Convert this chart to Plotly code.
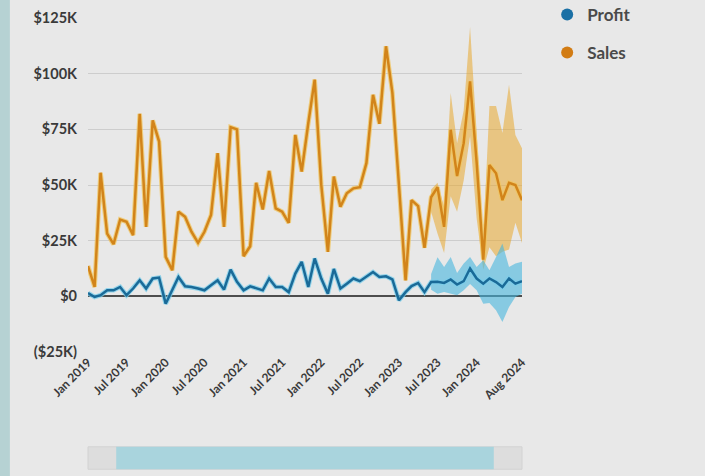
import pandas as pd
import plotly.graph_objects as go

# Monthly series, Jan 2019 .. Aug 2024
months = pd.date_range("2019-01-01", "2024-08-01", freq="MS")

# Actuals Jan 2019 .. May 2023, forecast Jun 2023 .. Aug 2024 (thousands of $)
sales_k = [
    13.6, 4.2, 55.5, 28.2, 23.4, 34.5, 33.5, 27.5, 82.0, 31.2, 79.0, 69.5,
    17.7, 11.7, 38.0, 35.7, 29.0, 24.0, 29.0, 36.5, 64.3, 31.2, 76.0, 75.0,
    18.0, 22.5, 51.0, 39.0, 56.3, 39.5, 38.0, 33.0, 72.5, 56.0, 77.8, 97.3,
    50.0, 20.0, 53.8, 40.2, 46.3, 48.5, 49.0, 59.8, 90.5, 77.5, 112.3, 91.5,
    50.0, 7.2, 43.2, 40.5, 21.8,
    44.5, 49.0, 31.2, 74.8, 54.0, 68.8, 96.5, 60.0, 16.5, 59.0, 55.3, 43.2,
    51.0, 50.0, 43.2,
]
profit_k = [
    1.5, -0.3, 0.5, 2.7, 2.7, 4.2, 0.5, 3.5, 7.2, 3.5, 8.0, 8.4,
    -3.3, 2.7, 8.7, 4.5, 4.2, 3.5, 2.7, 5.0, 7.2, 3.0, 12.0, 6.5,
    2.7, 4.5, 3.5, 2.7, 8.0, 4.2, 4.2, 1.9, 10.2, 15.5, 4.2, 17.0,
    8.0, 1.2, 12.3, 3.5, 5.7, 8.0, 6.8, 8.7, 10.9, 8.7, 9.0, 7.6,
    -1.8, 1.9, 4.6, 6.0, 1.9,
    6.4, 6.5, 6.0, 7.6, 5.3, 6.8, 12.5, 8.0, 5.7, 8.0, 6.4, 4.2,
    8.0, 5.7, 6.8,
]

# Forecast prediction intervals, Jun 2023 .. Aug 2024 (thousands of $)
forecast_start = 53
sales_upper_k = [48.0, 51.0, 40.2, 91.3, 68.8, 83.5, 121.0, 76.0, 26.0, 85.5,
                 85.5, 73.3, 95.0, 72.5, 66.5]
sales_lower_k = [38.0, 28.2, 19.5, 45.0, 38.0, 52.0, 72.0, 35.0, 12.0, 22.0,
                 18.0, 20.0, 21.0, 33.0, 24.0]
profit_upper_k = [10.0, 17.5, 13.2, 17.7, 10.5, 14.7, 17.7, 13.2, 16.2, 11.7,
                  17.7, 23.7, 13.2, 14.7, 15.5]
profit_lower_k = [3.0, 1.2, 2.0, 1.2, 0.5, 2.7, 5.5, 2.7, -3.3, -3.0,
                  -6.3, -11.5, -4.8, -0.3, 1.2]

# Axis ticks
x_tick_labels = ["Jan 2019", "Jul 2019", "Jan 2020", "Jul 2020", "Jan 2021",
                 "Jul 2021", "Jan 2022", "Jul 2022", "Jan 2023", "Jul 2023",
                 "Jan 2024", "Aug 2024"]
y_tick_vals = [-25000, 0, 25000, 50000, 75000, 100000, 125000]
y_tick_labels = ["($25K)", "$0", "$25K", "$50K", "$75K", "$100K", "$125K"]

K = 1000
sales = [v * K for v in sales_k]
profit = [v * K for v in profit_k]
fc_months = months[forecast_start:]
x_tick_vals = [pd.to_datetime(t, format="%b %Y") for t in x_tick_labels]

SALES_LINE = "#d2841a"
SALES_GLOW = "rgba(240,196,92,0.75)"
PROFIT_LINE = "#1a6a98"
PROFIT_GLOW = "rgba(120,205,235,0.75)"
SALES_BAND = "rgba(232,168,45,0.55)"
PROFIT_BAND = "rgba(70,182,222,0.6)"
BG = "#e8e8e8"
TEXT = "#3a3a3a"

fig = go.Figure()

# Prediction bands
fig.add_trace(go.Scatter(x=fc_months, y=[v * K for v in sales_lower_k], mode="lines",
                         line=dict(width=0), showlegend=False, hoverinfo="skip"))
fig.add_trace(go.Scatter(x=fc_months, y=[v * K for v in sales_upper_k], mode="lines",
                         line=dict(width=0), fill="tonexty", fillcolor=SALES_BAND,
                         showlegend=False, hoverinfo="skip"))
fig.add_trace(go.Scatter(x=fc_months, y=[v * K for v in profit_lower_k], mode="lines",
                         line=dict(width=0), showlegend=False, hoverinfo="skip"))
fig.add_trace(go.Scatter(x=fc_months, y=[v * K for v in profit_upper_k], mode="lines",
                         line=dict(width=0), fill="tonexty", fillcolor=PROFIT_BAND,
                         showlegend=False, hoverinfo="skip"))

# Series lines with a soft light edge
for y, glow, col, name in [(sales, SALES_GLOW, SALES_LINE, "Sales"),
                           (profit, PROFIT_GLOW, PROFIT_LINE, "Profit")]:
    fig.add_trace(go.Scatter(x=months, y=y, mode="lines", line=dict(color=glow, width=4.6),
                             showlegend=False, hoverinfo="skip"))
    fig.add_trace(go.Scatter(x=months, y=y, mode="lines", name=name,
                             line=dict(color=col, width=2.5), showlegend=False))

# Legend entries (dot markers), attached to the zero-line tick axis
fig.add_trace(go.Scatter(x=[None], y=[None], mode="markers", name="Profit",
                         marker=dict(color="#1a70a5", size=14), legendgroup="p",
                         xaxis="x2"))
fig.add_trace(go.Scatter(x=[None], y=[None], mode="markers", name="Sales",
                         marker=dict(color="#d27c14", size=14), legendgroup="s",
                         xaxis="x2"))

x_range = [months[0], months[-1]]
x_tick_font = dict(family="Lato", size=12, color=TEXT, weight="bold")
y_tick_font = dict(family="Lato", size=14.5, color=TEXT, weight="bold")

fig.update_layout(
    width=705, height=476,
    margin=dict(l=88, r=183, t=18, b=124, autoexpand=False),
    paper_bgcolor=BG, plot_bgcolor=BG,
    xaxis=dict(range=x_range, tickvals=x_tick_vals, ticktext=x_tick_labels,
               tickangle=-45, showgrid=False, zeroline=False, showline=False,
               ticks="", tickfont=x_tick_font, automargin=False),
    xaxis2=dict(range=x_range, overlaying="x", anchor="free", position=1 / 6,
                side="bottom", tickvals=x_tick_vals, showticklabels=False,
                ticks="outside", ticklen=5, tickwidth=2, tickcolor="#4a4a4a",
                showgrid=False, zeroline=False, showline=False),
    yaxis=dict(range=[-25000, 125000], tickvals=y_tick_vals, ticktext=y_tick_labels,
               showgrid=True, gridcolor="#cdcdcd", gridwidth=1,
               zeroline=True, zerolinecolor="#4d4d4d", zerolinewidth=2,
               showline=False, ticks="", ticklabelstandoff=10, tickfont=y_tick_font,
               automargin=False),
    legend=dict(x=1.058, y=1.063, xanchor="left", yanchor="top",
                font=dict(family="Lato", size=17, color="#4a4a4a", weight="bold"),
                tracegroupgap=13, bgcolor="rgba(0,0,0,0)", itemsizing="constant"),
    shapes=[
        # side strip
        dict(type="rect", xref="paper", yref="paper", x0=-0.203, x1=-0.18,
             y0=-0.38, y1=1.06, fillcolor="#b6d2d3", line=dict(width=0), layer="below"),
        # scroll track
        dict(type="rect", xref="paper", yref="paper", x0=0, x1=1,
             y0=-0.351, y1=-0.284, fillcolor="#dddddd", line=dict(color="#d2d2d2", width=1)),
        # scroll thumb
        dict(type="rect", xref="paper", yref="paper", x0=0.065, x1=0.935,
             y0=-0.351, y1=-0.284, fillcolor="#a9d4dd", line=dict(width=0)),
    ],
    showlegend=True,
)

fig.write_html("out.html")
